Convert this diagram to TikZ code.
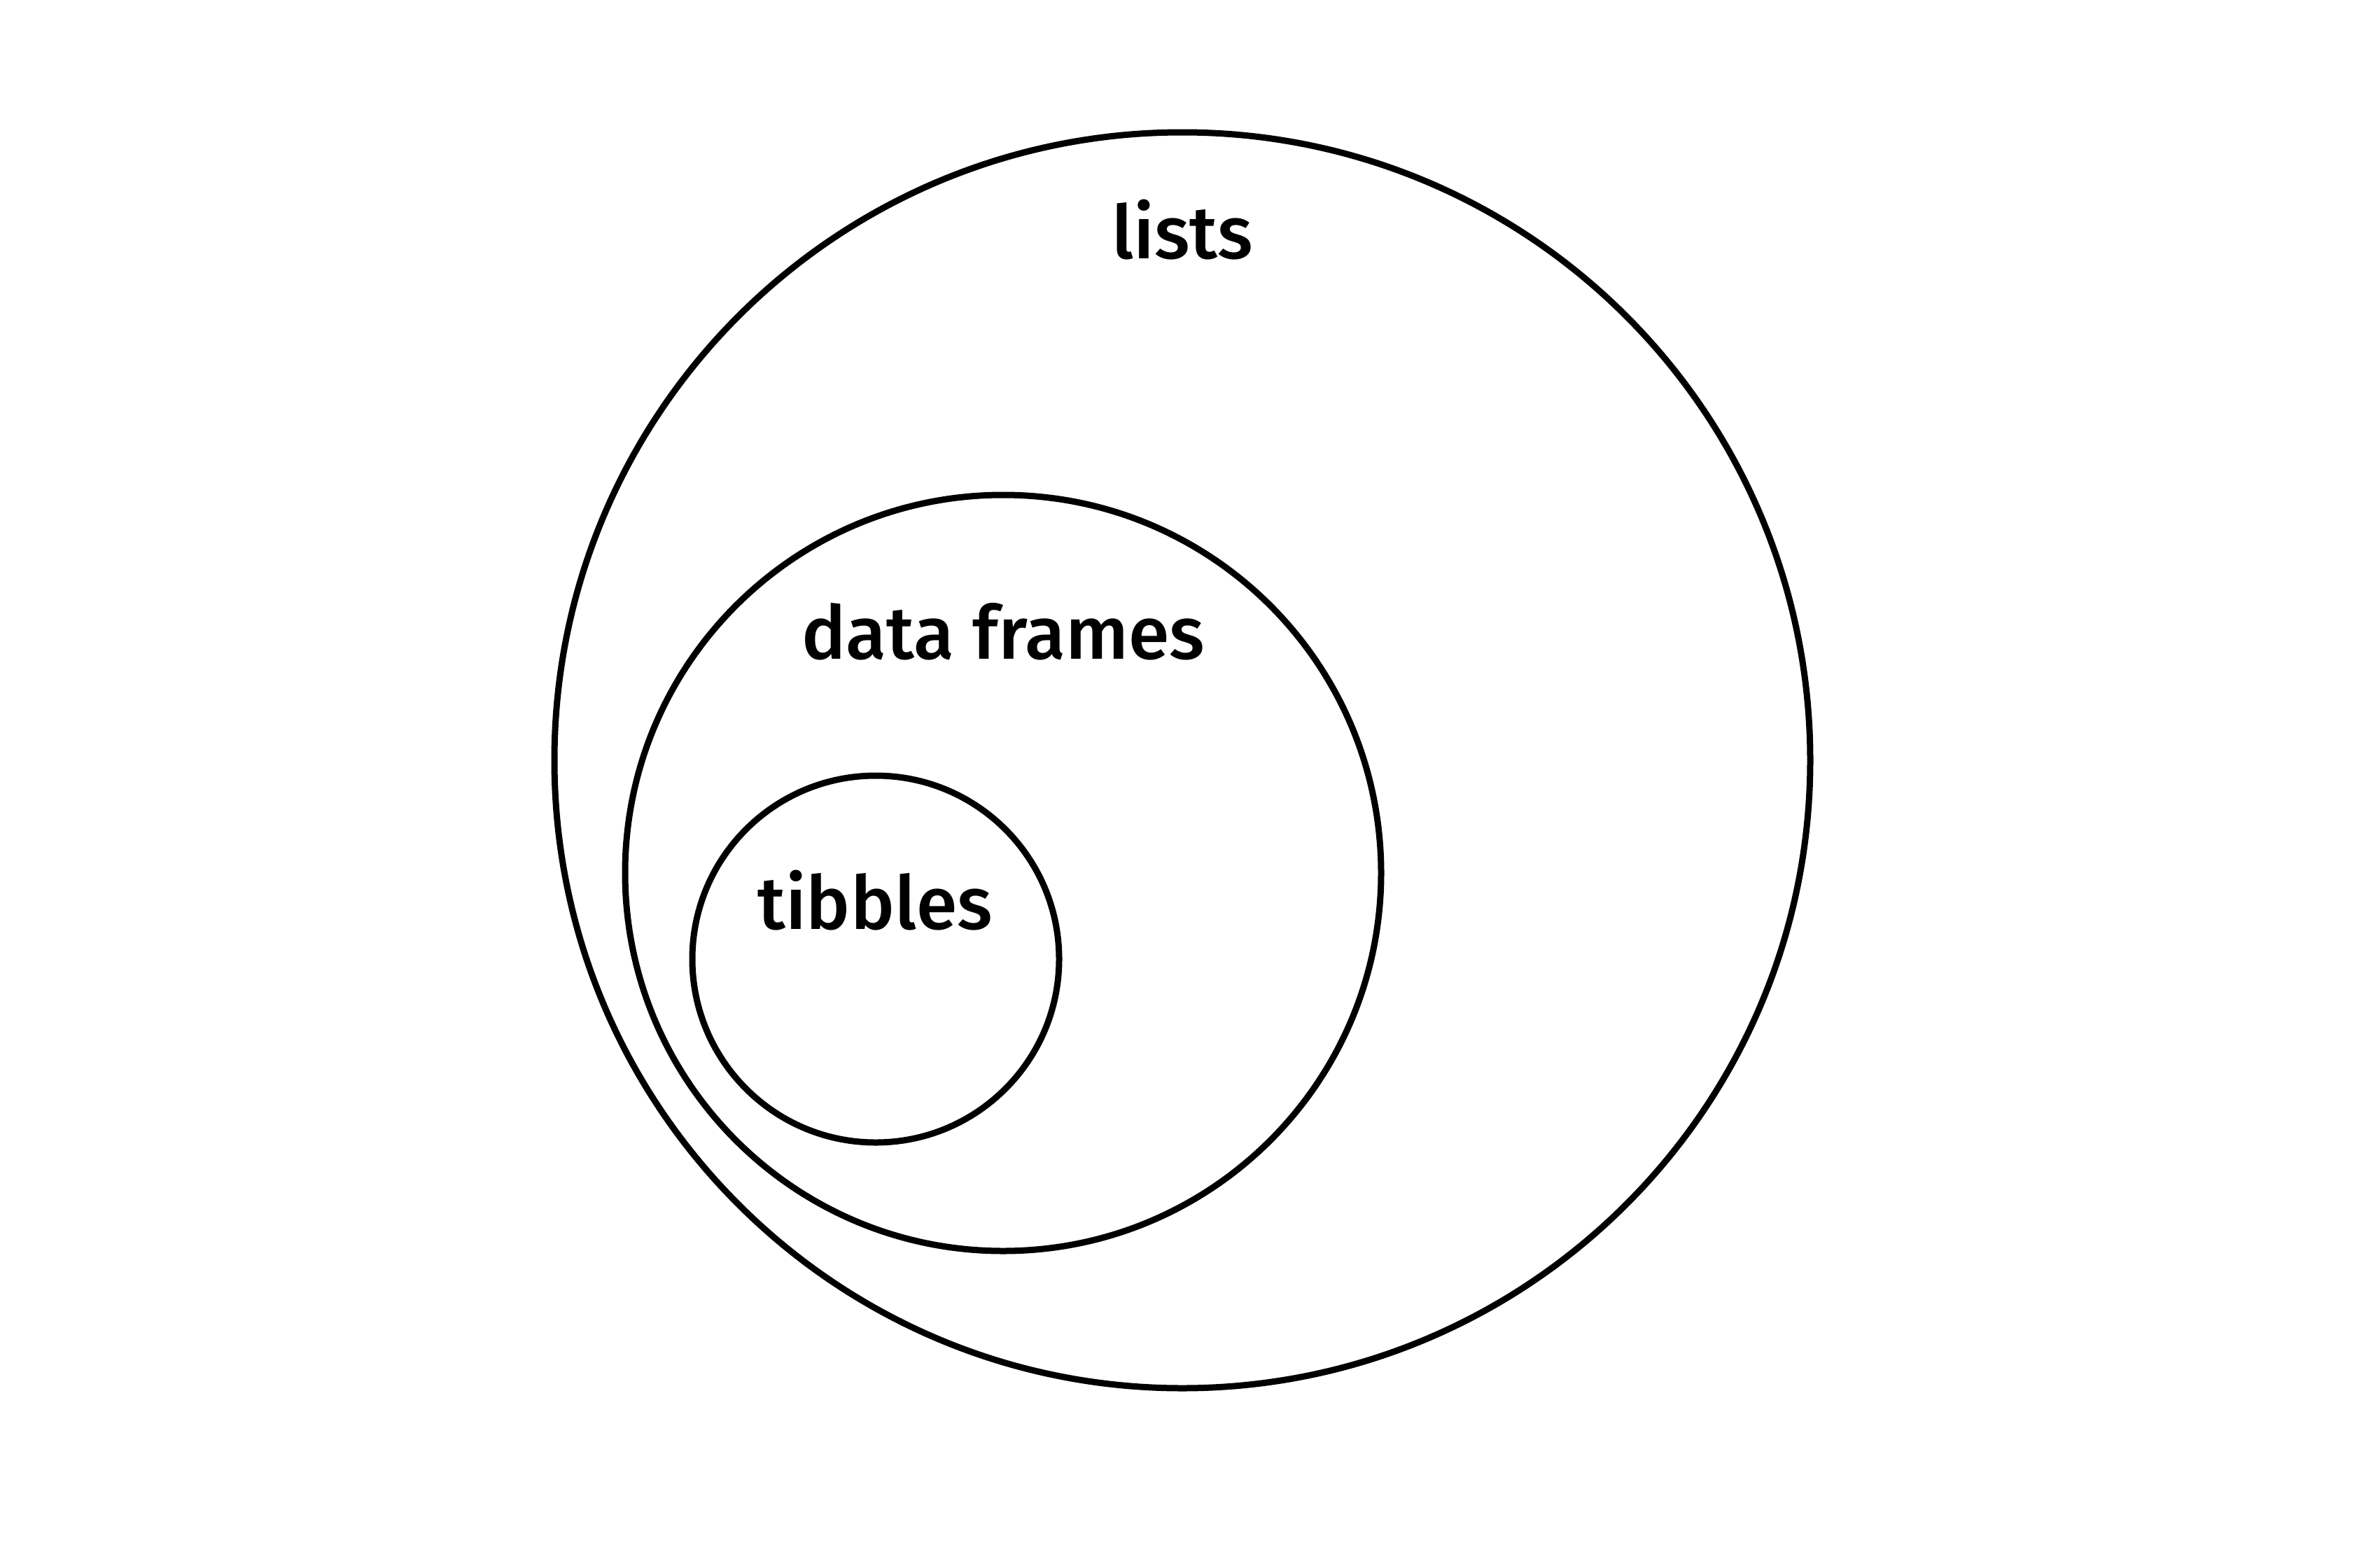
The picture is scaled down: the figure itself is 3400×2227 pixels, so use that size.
\documentclass[tikz,border=0pt]{standalone}
\usepackage{fontspec}
\setmainfont{Fira Sans}[UprightFont=* Medium]
\begin{document}
\begin{tikzpicture}[x=1pt,y=-1pt,
  ring/.style={draw=black,line width=9pt,circle,inner sep=0pt},
  lbl/.style={anchor=base,inner sep=0pt,font=\fontsize{106}{124}\selectfont}]
\useasboundingbox (0,0) rectangle (3400,2227);
\node[ring,minimum size=1794pt] (lists) at (1689,1086) {};
\node[ring,minimum size=1080pt] (df) at (1433,1247) {};
\node[ring,minimum size=524pt] (tib) at (1251,1370) {};
\node[lbl] (tl) at (1689,369) {lists};
\node[lbl] (tdf) at (1433,941) {data frames};
\node[lbl] (tt) at (1250,1327) {tibbles};
\end{tikzpicture}
\end{document}
